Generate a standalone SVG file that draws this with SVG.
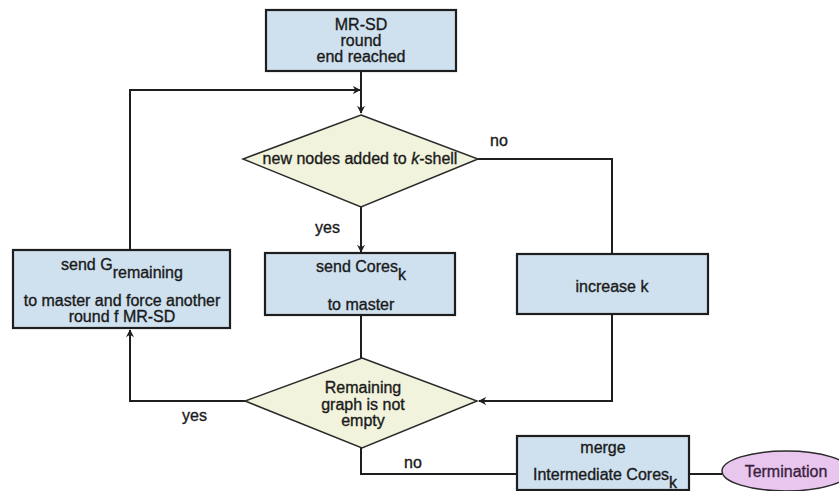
<svg xmlns="http://www.w3.org/2000/svg" width="839" height="491" viewBox="0 0 839 491">
  <style>
    .box { fill: #cfe1ef; stroke: #1e1e1e; stroke-width: 2.2; }
    .dec { fill: #f1f3dc; stroke: #2a2a2a; stroke-width: 1.5; }
    .term { fill: #e9c6ee; stroke: #2a2a2a; stroke-width: 1.5; }
    .txt { font-family: "Liberation Sans", Arial, sans-serif; font-size: 16px; fill: #1a1a1a; stroke: #1a1a1a; stroke-width: 0.35; text-anchor: middle; }
    .lbl { font-family: "Liberation Sans", Arial, sans-serif; font-size: 16px; fill: #1a1a1a; stroke: #1a1a1a; stroke-width: 0.35; }
    .edge { fill: none; stroke: #1e1e1e; stroke-width: 2; }
  </style>
  <defs>
    <marker id="arrow" viewBox="0 0 10 10" refX="9" refY="5" markerWidth="8" markerHeight="8" markerUnits="userSpaceOnUse" orient="auto">
      <path d="M0,0 L10,5 L0,10 L3,5 Z" fill="#1e1e1e"/>
    </marker>
  </defs>

  <rect width="839" height="491" fill="#ffffff"/>

  <!-- connectors -->
  <g id="connectors">
    <path class="edge" d="M361,71 V113" marker-end="url(#arrow)"/>
    <path class="edge" d="M130,250 V90 H360" marker-end="url(#arrow)"/>
    <path class="edge" d="M361,207 V252" marker-end="url(#arrow)"/>
    <path class="edge" d="M478,159 H612 V254"/>
    <path class="edge" d="M361,315 V358"/>
    <path class="edge" d="M612,314 V401 H479" marker-end="url(#arrow)"/>
    <path class="edge" d="M245,401 H130 V330" marker-end="url(#arrow)"/>
    <path class="edge" d="M361,448 V474 H517"/>
    <path class="edge" d="M689,474 H722"/>
    <text class="lbl" x="490" y="146">no</text>
    <text class="lbl" x="315" y="233">yes</text>
    <text class="lbl" x="182" y="421">yes</text>
    <text class="lbl" x="404" y="468">no</text>
  </g>

  <g id="start">
    <rect class="box" x="266" y="10" width="190" height="61"/>
    <text class="txt" x="361" y="30">MR-SD</text>
    <text class="txt" x="361" y="46">round</text>
    <text class="txt" x="361" y="62">end reached</text>
  </g>

  <g id="newNodes">
    <polygon class="dec" points="361,115 478,159 361,207 243,159"/>
    <text class="txt" x="360" y="164">new nodes added to <tspan font-style="italic">k</tspan>-shell</text>
  </g>

  <g id="sendCores">
    <rect class="box" x="265" y="253" width="190" height="62"/>
    <text class="txt" x="361" y="272">send Cores<tspan dy="8">k</tspan></text>
    <text class="txt" x="361" y="310">to master</text>
  </g>

  <g id="increaseK">
    <rect class="box" x="517" y="254" width="191" height="60"/>
    <text class="txt" x="612" y="292">increase k</text>
  </g>

  <g id="sendRemaining">
    <rect class="box" x="13" y="250" width="217" height="78"/>
    <text class="txt" x="122" y="270">send G<tspan dy="8">remaining</tspan></text>
    <text class="txt" x="122" y="306">to master and force another</text>
    <text class="txt" x="122" y="322">round f MR-SD</text>
  </g>

  <g id="remaining">
    <polygon class="dec" points="362,358 477,401 362,448 245,401"/>
    <text class="txt" x="363" y="393">Remaining</text>
    <text class="txt" x="363" y="410">graph is not</text>
    <text class="txt" x="363" y="426">empty</text>
  </g>

  <g id="merge">
    <rect class="box" x="517" y="436" width="172" height="54"/>
    <text class="txt" x="603" y="453">merge</text>
    <text class="txt" x="605" y="480">Intermediate Cores<tspan dy="8">k</tspan></text>
  </g>

  <g id="termination">
    <ellipse class="term" cx="786" cy="471" rx="64" ry="20"/>
    <text class="txt" x="786" y="477" style="fill:#3a1f40;stroke:#3a1f40">Termination</text>
  </g>
</svg>
